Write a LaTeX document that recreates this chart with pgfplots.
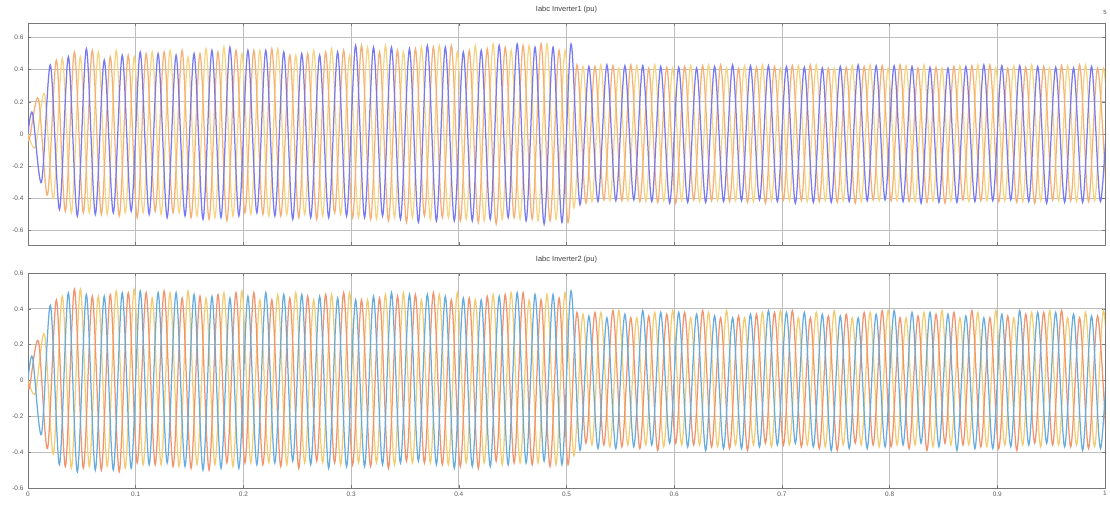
\documentclass[border=0pt]{standalone}
\usepackage{pgfplots}
\pgfplotsset{compat=1.18}
\usepackage{pgfplotstable}
\usepackage{fontspec}
\setmainfont{Liberation Sans}
\definecolor{uA}{RGB}{122,122,240}
\definecolor{uB}{RGB}{244,176,118}
\definecolor{uC}{RGB}{246,212,132}
\definecolor{lA}{RGB}{104,172,222}
\definecolor{lB}{RGB}{240,148,110}
\definecolor{lC}{RGB}{242,204,116}
\definecolor{gridc}{RGB}{190,190,190}
\definecolor{axc}{RGB}{120,120,120}

\pgfplotstableread{
ta tb tc a1 b1 c1 a2 b2 c2
0 0 0 0 0 0 0 0 0
.0042 .0014 .0069 .13 -.03 -.08 .13 -.04 -.07
.0125 .0097 .0153 -.30 .22 .25 -.30 .22 .26
.0208 .0181 .0236 .43 -.38 -.40 .42 -.38 -.41
.0292 .0264 .0319 -.47 .46 .47 -.47 .45 .47
.0375 .0347 .0403 .48 -.48 -.49 .49 -.48 -.49
.0458 .0431 .0486 -.51 .51 .48 -.51 .51 .51
.0542 .0514 .0569 .53 -.49 -.49 .48 -.49 -.48
.0625 .0597 .0653 -.50 .52 .51 -.50 .47 .47
.0708 .0681 .0736 .46 -.50 -.50 .47 -.50 -.48
.0792 .0764 .0819 -.49 .48 .52 -.50 .48 .50
.0875 .0847 .0903 .49 -.51 -.49 .49 -.51 -.49
.0958 .0931 .0986 -.48 .49 .48 -.49 .49 .51
.1042 .1014 .1069 .51 -.52 -.49 .50 -.46 -.47
.1125 .1097 .1153 -.50 .50 .51 -.47 .49 .46
.1208 .1181 .1236 .50 -.48 -.50 .49 -.47 -.47
.1292 .1264 .1319 -.52 .51 .52 -.46 .50 .49
.1375 .1347 .1403 .49 -.49 -.49 .49 -.48 -.48
.1458 .1431 .1486 -.51 .52 .48 -.48 .46 .50
.1542 .1514 .1569 .50 -.52 -.51 .48 -.49 -.47
.1625 .1597 .1653 -.53 .50 .53 -.50 .47 .46
.1708 .1681 .1736 .52 -.53 -.52 .47 -.50 -.47
.1792 .1764 .1819 -.52 .51 .54 -.49 .48 .49
.1875 .1847 .1903 .54 -.54 -.51 .46 -.46 -.48
.1958 .1931 .1986 -.51 .52 .50 -.49 .49 .50
.2042 .2014 .2069 .52 -.49 -.50 .47 -.46 -.46
.2125 .2097 .2153 -.49 .52 .52 -.47 .49 .45
.2208 .2181 .2236 .52 -.50 -.51 .49 -.47 -.46
.2292 .2264 .2319 -.51 .53 .53 -.46 .45 .48
.2375 .2347 .2403 .51 -.51 -.50 .48 -.48 -.47
.2458 .2431 .2486 -.53 .49 .49 -.45 .46 .49
.2542 .2514 .2569 .50 -.52 -.50 .48 -.49 -.46
.2625 .2597 .2653 -.52 .50 .52 -.47 .47 .45
.2708 .2681 .2736 .49 -.53 -.51 .47 -.45 -.46
.2792 .2764 .2819 -.52 .51 .53 -.49 .48 .48
.2875 .2847 .2903 .51 -.49 -.50 .46 -.46 -.47
.2958 .2931 .2986 -.51 .52 .49 -.48 .49 .49
.3042 .3014 .3069 .55 -.52 -.52 .45 -.47 -.46
.3125 .3097 .3153 -.52 .55 .54 -.48 .45 .45
.3208 .3181 .3236 .54 -.53 -.53 .47 -.48 -.46
.3292 .3264 .3319 -.51 .51 .55 -.47 .46 .48
.3375 .3347 .3403 .54 -.54 -.52 .49 -.49 -.47
.3458 .3431 .3486 -.53 .52 .51 -.46 .47 .49
.3542 .3514 .3569 .53 -.55 -.52 .48 -.45 -.46
.3625 .3597 .3653 -.55 .53 .54 -.45 .48 .45
.3708 .3681 .3736 .55 -.51 -.53 .48 -.46 -.46
.3792 .3764 .3819 -.54 .54 .55 -.47 .49 .48
.3875 .3847 .3903 .54 -.52 -.52 .47 -.47 -.47
.3958 .3931 .3986 -.54 .55 .51 -.49 .45 .49
.4042 .4014 .4069 .51 -.54 -.53 .46 -.48 -.46
.4125 .4097 .4153 -.54 .52 .55 -.48 .46 .45
.4208 .4181 .4236 .52 -.55 -.54 .45 -.49 -.46
.4292 .4264 .4319 -.53 .53 .56 -.48 .47 .48
.4375 .4347 .4403 .55 -.56 -.53 .47 -.45 -.47
.4458 .4431 .4486 -.52 .54 .52 -.47 .48 .49
.4542 .4514 .4569 .56 -.52 -.53 .49 -.46 -.46
.4625 .4597 .4653 -.54 .55 .55 -.46 .49 .45
.4708 .4681 .4736 .54 -.53 -.54 .48 -.47 -.46
.4792 .4764 .4819 -.56 .56 .56 -.45 .45 .48
.4875 .4847 .4903 .54 -.54 -.53 .48 -.48 -.47
.4958 .4931 .4986 -.55 .52 .52 -.47 .46 .49
.5042 .5014 .5069 .56 -.55 -.46 .50 -.47 -.42
.5125 .5097 .5153 -.44 .43 .42 -.39 .38 .37
.5208 .5181 .5236 .420 -.430 -.420 .36 -.35 -.36
.5292 .5264 .5319 -.420 .420 .430 -.38 .38 .38
.5375 .5347 .5403 .430 -.410 -.415 .35 -.36 -.37
.5458 .5431 .5486 -.415 .425 .410 -.38 .39 .39
.5542 .5514 .5569 .425 -.415 -.415 .37 -.37 -.36
.5625 .5597 .5653 -.410 .430 .425 -.37 .35 .35
.5708 .5681 .5736 .425 -.420 -.420 .39 -.38 -.36
.5792 .5764 .5819 -.420 .410 .430 -.36 .36 .38
.5875 .5847 .5903 .420 -.425 -.415 .38 -.39 -.37
.5958 .5931 .5986 -.430 .415 .410 -.35 .37 .39
.6042 .6014 .6069 .415 -.430 -.415 .38 -.35 -.36
.6125 .6097 .6153 -.425 .420 .425 -.37 .38 .35
.6208 .6181 .6236 .410 -.410 -.420 .37 -.36 -.36
.6292 .6264 .6319 -.425 .425 .430 -.39 .39 .38
.6375 .6347 .6403 .420 -.415 -.415 .36 -.37 -.37
.6458 .6431 .6486 -.420 .430 .410 -.38 .35 .39
.6542 .6514 .6569 .430 -.420 -.415 .35 -.38 -.36
.6625 .6597 .6653 -.415 .410 .425 -.38 .36 .35
.6708 .6681 .6736 .425 -.425 -.420 .37 -.39 -.36
.6792 .6764 .6819 -.410 .415 .430 -.37 .37 .38
.6875 .6847 .6903 .425 -.430 -.415 .39 -.35 -.37
.6958 .6931 .6986 -.420 .420 .410 -.36 .38 .39
.7042 .7014 .7069 .420 -.410 -.415 .38 -.36 -.36
.7125 .7097 .7153 -.430 .425 .425 -.35 .39 .35
.7208 .7181 .7236 .415 -.415 -.420 .38 -.37 -.36
.7292 .7264 .7319 -.425 .430 .430 -.37 .35 .38
.7375 .7347 .7403 .410 -.420 -.415 .37 -.38 -.37
.7458 .7431 .7486 -.425 .410 .410 -.39 .36 .39
.7542 .7514 .7569 .420 -.425 -.415 .36 -.39 -.36
.7625 .7597 .7653 -.420 .415 .425 -.38 .37 .35
.7708 .7681 .7736 .430 -.430 -.420 .35 -.35 -.36
.7792 .7764 .7819 -.415 .420 .430 -.38 .38 .38
.7875 .7847 .7903 .425 -.410 -.415 .37 -.36 -.37
.7958 .7931 .7986 -.410 .425 .410 -.37 .39 .39
.8042 .8014 .8069 .425 -.415 -.415 .39 -.37 -.36
.8125 .8097 .8153 -.420 .430 .425 -.36 .35 .35
.8208 .8181 .8236 .420 -.420 -.420 .38 -.38 -.36
.8292 .8264 .8319 -.430 .410 .430 -.35 .36 .38
.8375 .8347 .8403 .415 -.425 -.415 .38 -.39 -.37
.8458 .8431 .8486 -.425 .415 .410 -.37 .37 .39
.8542 .8514 .8569 .410 -.430 -.415 .37 -.35 -.36
.8625 .8597 .8653 -.425 .420 .425 -.39 .38 .35
.8708 .8681 .8736 .420 -.410 -.420 .36 -.36 -.36
.8792 .8764 .8819 -.420 .425 .430 -.38 .39 .38
.8875 .8847 .8903 .430 -.415 -.415 .35 -.37 -.37
.8958 .8931 .8986 -.415 .430 .410 -.38 .35 .39
.9042 .9014 .9069 .425 -.420 -.415 .37 -.38 -.36
.9125 .9097 .9153 -.410 .410 .425 -.37 .36 .35
.9208 .9181 .9236 .425 -.425 -.420 .39 -.39 -.36
.9292 .9264 .9319 -.420 .415 .430 -.36 .37 .38
.9375 .9347 .9403 .420 -.430 -.415 .38 -.35 -.37
.9458 .9431 .9486 -.430 .420 .410 -.35 .38 .39
.9542 .9514 .9569 .415 -.410 -.415 .38 -.36 -.36
.9625 .9597 .9653 -.425 .425 .425 -.37 .39 .35
.9708 .9681 .9736 .410 -.415 -.420 .37 -.37 -.36
.9792 .9764 .9819 -.425 .430 .430 -.39 .35 .38
.9875 .9847 .9903 .420 -.420 -.415 .36 -.38 -.37
.9958 .9931 .9986 -.420 .410 .410 -.38 .36 .39
1.0042 1.0014 1.0069 .42 -.41 -.41 .37 -.37 -.37
}\datatab

\pgfplotsset{
  scopeax/.style={
    scale only axis, width=1077bp,
    xmin=0, xmax=1,
    xtick={0,0.1,0.2,0.3,0.4,0.5,0.6,0.7,0.8,0.9,1},
    ytick={-0.6,-0.4,-0.2,0,0.2,0.4,0.6},
    grid=major,
    major grid style={gridc, line width=0.7bp},
    axis line style={axc, line width=0.9bp},
    tick align=inside, major tick length=3bp,
    tick style={axc, line width=0.6bp},
    ticklabel style={font=\fontsize{6.5}{7}\selectfont, text=black!65},
    /pgf/number format/assume math mode=true,
    yticklabel style={xshift=-1bp},
    title style={font=\fontsize{7.5}{8}\selectfont, text=black!75, at={(0.5,1)}, anchor=south, inner sep=1bp, yshift=3bp},
    every axis plot/.append style={smooth, line width=1.25bp, no markers},
  }
}

\begin{document}
\begin{tikzpicture}
\useasboundingbox (0,0) rectangle (1110bp,506bp);
\begin{axis}[scopeax, at={(28bp,261bp)}, anchor=south west, height=222bp,
  ymin=-0.69, ymax=0.69, xticklabels={}, title={Iabc Inverter1 (pu)}]
\addplot[uC] table[x=tc, y=c1] {\datatab};
\addplot[uB] table[x=tb, y=b1] {\datatab};
\addplot[uA] table[x=ta, y=a1] {\datatab};
\end{axis}
\begin{axis}[scopeax, at={(28bp,18bp)}, anchor=south west, height=215bp,
  ymin=-0.6, ymax=0.6, title={Iabc Inverter2 (pu)}]
\addplot[lC] table[x=tc, y=c2] {\datatab};
\addplot[lB] table[x=tb, y=b2] {\datatab};
\addplot[lA] table[x=ta, y=a2] {\datatab};
\end{axis}
\node[font=\fontsize{6}{7}\selectfont, text=black!70] at (1105bp,494bp) {5};
\end{tikzpicture}
\end{document}
